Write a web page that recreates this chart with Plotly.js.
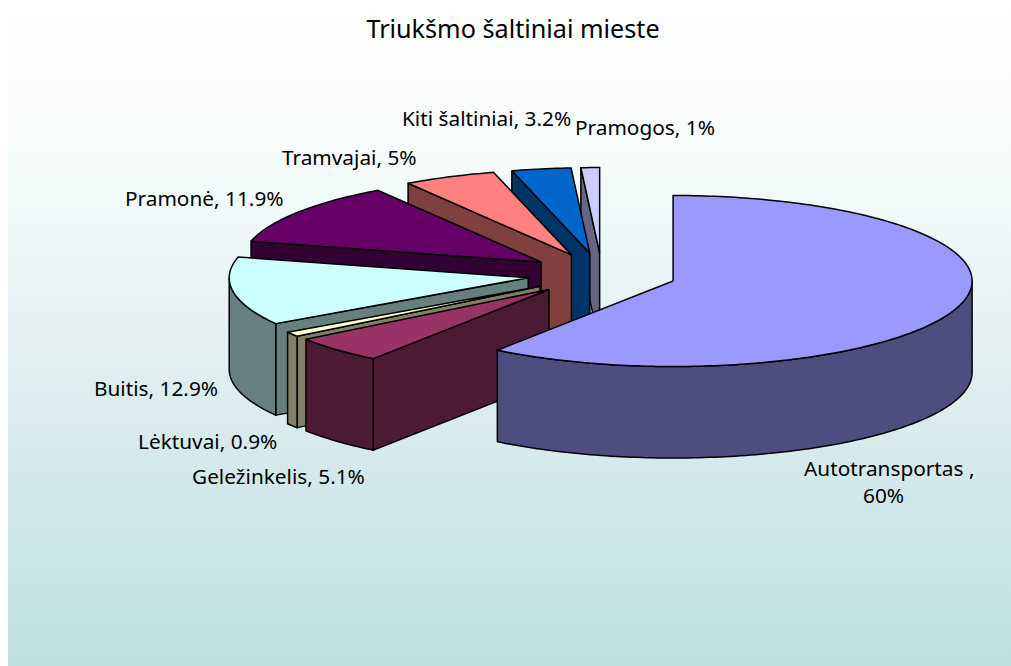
<!DOCTYPE html>
<html>
<head>
<meta charset="utf-8">
<script src="https://cdn.plot.ly/plotly-3.0.1.min.js"></script>
<style>
html,body{margin:0;padding:0;background:#fff;overflow:hidden}
#bg{position:absolute;left:8px;top:0;width:1003px;height:666px;background:linear-gradient(to bottom,#ffffff 0%,#fbfcfd 15%,#f5fbfb 25%,#e4f1f2 50%,#cfe7e9 76%,#bde0e2 100%)}
#chart{position:absolute;left:0;top:0;width:1011px;height:666px}
</style>
</head>
<body>
<div id="bg"></div>
<div id="chart"></div>
<script>
const titleText = "Triukšmo šaltiniai mieste";
const categories = ["Autotransportas ", "Geležinkelis", "Lėktuvai", "Buitis", "Pramonė", "Tramvajai", "Kiti šaltiniai", "Pramogos"];
const values = [60, 5.1, 0.9, 12.9, 11.9, 5, 3.2, 1];

// styling
const topColors = ["#9999FF", "#993366", "#FFFFCC", "#CCFFFF", "#660066", "#FF8080", "#0066CC", "#CCCCFF"];
const wallColors = ["#4D4D80", "#4D1A33", "#808066", "#668080", "#330033", "#804040", "#003366", "#666680"];
const font = "'Noto Sans', Tahoma, sans-serif";

// projection of the tilted pie, in pixel-scaled axis units
const cx = 602, cy = 274.4, rx = 299, ry = 85.5, depth = 91.5, explode = 0.25;
const rad = d => d * Math.PI / 180;
const total = values.reduce((a, b) => a + b, 0);

function px(a, d) { return d.x + rx * Math.sin(rad(a)); }
function py(a, d) { return d.y - ry * Math.cos(rad(a)); }
function arc(a0, a1) {
  const out = [], n = Math.max(2, Math.ceil(Math.abs(a1 - a0)));
  for (let i = 0; i <= n; i++) out.push(a0 + (a1 - a0) * i / n);
  return out;
}
function poly(color, xs, ys) {
  return {type: "scatter", mode: "lines", x: xs, y: ys, fill: "toself", fillcolor: color,
          line: {color: "#000000", width: 1.5, simplify: false}, hoverinfo: "skip", showlegend: false};
}

let acc = 0;
const slices = values.map((v, i) => {
  const start = acc / total * 360; acc += v;
  const end = acc / total * 360, mid = (start + end) / 2;
  return {i, start, end,
          apex: {x: cx + explode * rx * Math.sin(rad(mid)), y: cy - explode * ry * Math.cos(rad(mid))}};
});

// paint from the back of the pie to the front
const order = [7, 6, 5, 4, 3, 2, 1, 0];
const traces = [];
order.forEach(k => {
  const s = slices[k], d = s.apex;
  // cut face at the start of the slice
  if (Math.sin(rad(s.start)) < -1e-6 || s.start > 180) {
    traces.push(poly(wallColors[k],
      [d.x, px(s.start, d), px(s.start, d), d.x, d.x],
      [d.y, py(s.start, d), py(s.start, d) + depth, d.y + depth, d.y]));
  }
  // outer rim, front half only
  const a0 = Math.max(s.start, 90), a1 = Math.min(s.end, 270);
  if (a1 > a0) {
    const as = arc(a0, a1);
    const xs = as.map(a => px(a, d)), ys = as.map(a => py(a, d));
    const xb = xs.slice().reverse(), yb = as.map(a => py(a, d) + depth).reverse();
    traces.push(poly(wallColors[k], xs.concat(xb, [xs[0]]), ys.concat(yb, [ys[0]])));
  }
  // top face
  const as = arc(s.start, s.end);
  traces.push(poly(topColors[k],
    [d.x].concat(as.map(a => px(a, d)), [d.x]),
    [d.y].concat(as.map(a => py(a, d)), [d.y])));
});

// label placement, one entry per text line
const labelPlacement = [
  {text: categories[0] + ",", x: 888.5, y: 467.5},
  {text: values[0] + "%", x: 883.5, y: 494.5},
  {text: categories[1] + ", " + values[1] + "%", x: 278, y: 476},
  {text: categories[2] + ", " + values[2] + "%", x: 207.5, y: 441},
  {text: categories[3] + ", " + values[3] + "%", x: 156, y: 388},
  {text: categories[4] + ", " + values[4] + "%", x: 204, y: 198},
  {text: categories[5] + ", " + values[5] + "%", x: 349.5, y: 157},
  {text: categories[6] + ", " + values[6] + "%", x: 486.5, y: 118},
  {text: categories[7] + ", " + values[7] + "%", x: 645, y: 127}
];
const annotations = labelPlacement.map(l => ({
  xref: "x", yref: "y", x: l.x, y: l.y, showarrow: false, text: l.text,
  font: {family: font, size: 20.8, color: "#000000"},
  xanchor: "center", yanchor: "middle"
}));

Plotly.newPlot("chart", traces, {
  width: 1011, height: 666,
  margin: {l: 0, r: 0, t: 0, b: 0},
  paper_bgcolor: "rgba(0,0,0,0)", plot_bgcolor: "rgba(0,0,0,0)",
  showlegend: false, hovermode: false,
  title: {text: titleText, font: {family: font, size: 25.2, color: "#000000"},
          x: 513 / 1011, xanchor: "center", y: 1 - 29 / 666, yanchor: "middle"},
  xaxis: {range: [0, 1011], visible: false, fixedrange: true},
  yaxis: {range: [666, 0], visible: false, fixedrange: true},
  annotations
}, {displayModeBar: false, staticPlot: true});
</script>
</body>
</html>
